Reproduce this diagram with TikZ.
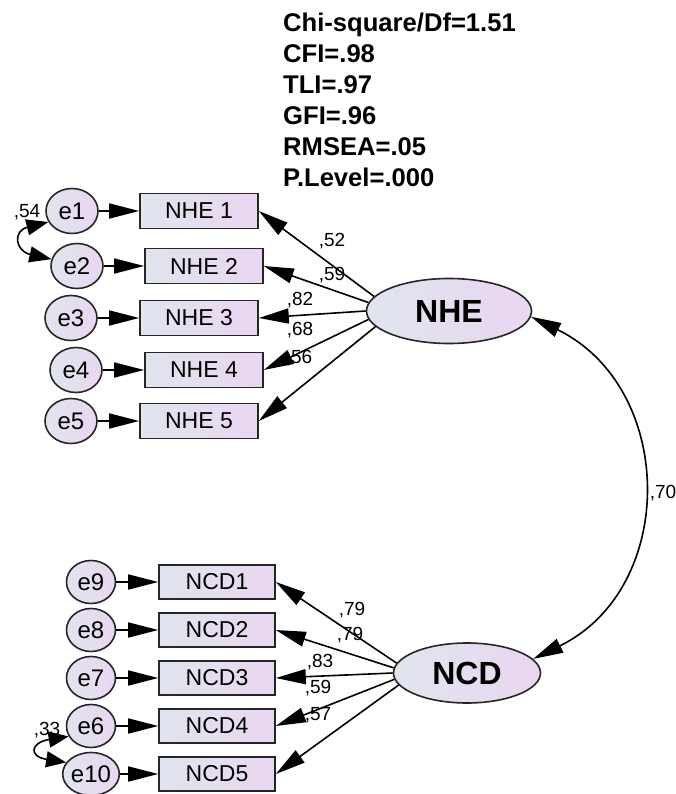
\documentclass[tikz,border=0pt]{standalone}
\usepackage{fontspec}
\setmainfont{Liberation Sans}
\usetikzlibrary{arrows.meta,shapes.geometric}
\definecolor{fillL}{HTML}{E0E5EE}
\definecolor{fillR}{HTML}{EAD6F1}
\definecolor{edgec}{HTML}{262626}
\begin{document}
\begin{tikzpicture}[x=1pt,y=-1pt,
  obs/.style={draw=edgec,line width=1.6pt,left color=fillL,right color=fillR,minimum width=118pt,minimum height=35pt,inner sep=0pt,font=\fontsize{23}{23}\selectfont},
  err/.style={ellipse,draw=edgec,line width=1.6pt,left color=fillL,right color=fillR,minimum width=52pt,minimum height=45pt,inner sep=0pt,font=\fontsize{24}{24}\selectfont},
  lat/.style={ellipse,draw=edgec,line width=1.6pt,left color=fillL,right color=fillR,inner sep=0pt,font=\bfseries\fontsize{32}{32}\selectfont},
  arr/.style={-{Triangle[length=30pt,width=15pt]},line width=1.6pt},
  corr/.style={{Triangle[length=22pt,width=16pt]}-{Triangle[length=22pt,width=16pt]},line width=1.6pt},
  lbl/.style={anchor=base,inner sep=0pt,font=\fontsize{19}{19}\selectfont}
]
\useasboundingbox[fill=white] (0,0) rectangle (676,794);

% fit statistics
\node[anchor=north west,inner sep=0pt,align=left,font=\bfseries\fontsize{25.6}{31}\selectfont] (stats) at (283,13)
  {Chi-square/Df=1.51\\CFI=.98\\TLI=.97\\GFI=.96\\RMSEA=.05\\P.Level=.000};

% NHE block
\node[obs] (NHE1) at (199,211) {NHE 1};
\node[obs] (NHE2) at (204,266) {NHE 2};
\node[obs] (NHE3) at (199,318) {NHE 3};
\node[obs] (NHE4) at (204,370) {NHE 4};
\node[obs] (NHE5) at (199,421) {NHE 5};
\node[err] (e1) at (72,211) {e1};
\node[err] (e2) at (77,266) {e2};
\node[err] (e3) at (71,318) {e3};
\node[err] (e4) at (76,370) {e4};
\node[err] (e5) at (71,421) {e5};
\node[lat,minimum width=165pt,minimum height=65pt] (NHE) at (449,311) {NHE};

\foreach \i in {1,...,5} {\draw[arr] (e\i) -- (NHE\i.west);}
\draw[arr] (NHE.169) -- (NHE1.east);
\draw[arr] (NHE.174) -- (NHE2.east);
\draw[arr] (NHE.180) -- (NHE3.east);
\draw[arr] (NHE.186) -- (NHE4.east);
\draw[arr] (NHE.192) -- (NHE5.east);
\node[lbl] (l52) at (332,247) {,52};
\node[lbl] (l59a) at (332,280) {,59};
\node[lbl] (l82) at (300,305) {,82};
\node[lbl] (l68) at (300,335) {,68};
\node[lbl] (l56) at (299,363) {,56};
\draw[corr] (e1.205) .. controls +(-36,9) and +(-36,-8) .. (e2.165);
\node[lbl] (l54) at (27,218) {,54};

% NCD block
\node[obs,minimum width=116pt,minimum height=34pt] (NCD1) at (217,582) {NCD1};
\node[obs,minimum width=116pt,minimum height=34pt] (NCD2) at (217,630) {NCD2};
\node[obs,minimum width=116pt,minimum height=34pt] (NCD3) at (217,678) {NCD3};
\node[obs,minimum width=116pt,minimum height=34pt] (NCD4) at (217,726) {NCD4};
\node[obs,minimum width=116pt,minimum height=34pt] (NCD5) at (217,774) {NCD5};
\node[err,minimum width=49pt,minimum height=43pt] (e9) at (91,582) {e9};
\node[err,minimum width=49pt,minimum height=43pt] (e8) at (91,630) {e8};
\node[err,minimum width=49pt,minimum height=43pt] (e7) at (91,678) {e7};
\node[err,minimum width=49pt,minimum height=43pt] (e6) at (91,726) {e6};
\node[err,minimum width=49pt,minimum height=43pt] (e10) at (91,774) {e10};
\node[lat,minimum width=147pt,minimum height=60pt] (NCD) at (467,673) {NCD};

\draw[arr] (e9) -- (NCD1.west);
\draw[arr] (e8) -- (NCD2.west);
\draw[arr] (e7) -- (NCD3.west);
\draw[arr] (e6) -- (NCD4.west);
\draw[arr] (e10) -- (NCD5.west);
\draw[arr] (NCD.172) -- (NCD1.east);
\draw[arr] (NCD.176) -- (NCD2.east);
\draw[arr] (NCD.180) -- (NCD3.east);
\draw[arr] (NCD.185) -- (NCD4.east);
\draw[arr] (NCD.190) -- (NCD5.east);
\node[lbl] (l79a) at (352,615) {,79};
\node[lbl] (l79b) at (350,640) {,79};
\node[lbl] (l83) at (320,667) {,83};
\node[lbl] (l59b) at (318,693) {,59};
\node[lbl] (l57) at (318,720) {,57};
\draw[corr,{Triangle[length=20pt,width=16pt]}-{Triangle[length=20pt,width=16pt]}] (e6.205) .. controls +(-38,6) and +(-38,-6) .. (e10.155);
\node[lbl] (l33) at (47,735) {,33};

% covariance between latent factors
\draw[corr,{Triangle[length=30pt,width=15pt]}-{Triangle[length=30pt,width=15pt]}] (NHE.-4) .. controls +(145,71) and +(145,-71) .. (NCD.12);
\node[lbl] (l70) at (663,498) {,70};
\end{tikzpicture}
\end{document}
